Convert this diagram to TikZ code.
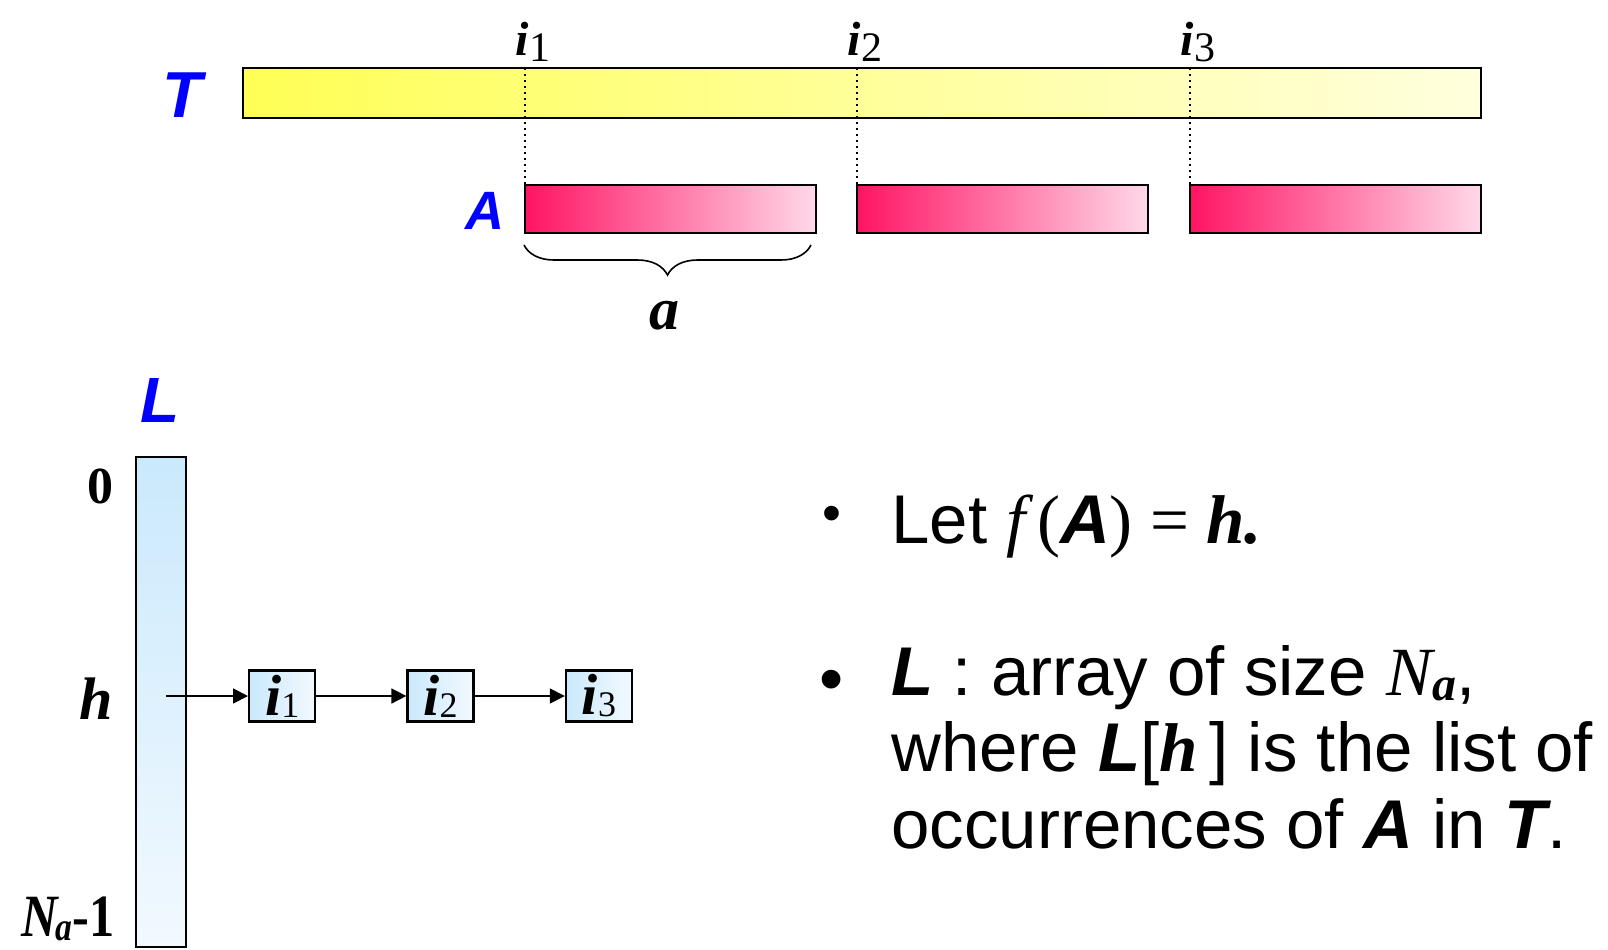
\documentclass[tikz,border=0pt]{standalone}
\usepackage{fontspec}
\setmainfont{Liberation Serif}
\setsansfont{Liberation Sans}
\usepackage{xcolor}
\usepackage{graphicx}
\usepackage{tikz}
\usetikzlibrary{arrows.meta,positioning,calc,decorations.pathreplacing}
\definecolor{tagblue}{RGB}{0,0,255}
\definecolor{textyel}{RGB}{255,255,85}
\definecolor{textpale}{RGB}{255,255,222}
\definecolor{patpink}{RGB}{255,20,100}
\definecolor{patpale}{RGB}{255,216,232}
\definecolor{listblue}{RGB}{202,233,252}
\definecolor{listpale}{RGB}{242,249,255}
\newcommand{\fs}[1]{\fontsize{#1}{#1}\selectfont}
\newcommand{\sbi}[1]{{\sffamily\bfseries\itshape #1}}
\newcommand{\rbi}[1]{{\rmfamily\bfseries\itshape #1}}
\newcommand{\rit}[1]{{\rmfamily\itshape #1}}
\newcommand{\topidx}[1]{\rbi{\fs{24}i}\raisebox{-2.8pt}{\fs{21}#1}}
\newcommand{\cellidx}[1]{\rbi{\fs{29}i}\raisebox{-1pt}{\fs{18}#1}}

\begin{document}
\begin{tikzpicture}[x=0.5pt,y=-0.5pt,>=Stealth,
    frame/.style={draw,line width=1.4pt},
    tag/.style={text=tagblue,inner sep=0pt},
    cell/.style={frame,line width=1.2pt,left color=listblue,right color=listpale,
      minimum width=33pt,minimum height=25.5pt,inner sep=0pt},
    link/.style={-{Triangle[length=7.5pt,width=7.5pt]},line width=0.8pt},
    txt/.style={anchor=base west,inner sep=0pt,font={\sffamily\fs{34.5}}}]
  \useasboundingbox (0,0) rectangle (1608,949);

  % text T
  \path[frame,left color=textyel,right color=textpale] (243,68) rectangle (1481,118);
  \node[tag,font={\sffamily\bfseries\itshape\fs{32.5}}] (Tname) at (182,95) {T};

  % occurrences i_k
  \foreach \x/\k in {525/1,857/2,1190/3}{
    \draw[dotted,line width=1pt] (\x,68) -- (\x,184);
    \node[inner sep=0pt] (top\k) at (\x+8,42) {\topidx{\k}};
  }

  % pattern A
  \foreach \x in {525,857,1190}
    \path[frame,left color=patpink,right color=patpale] (\x,185) rectangle ++(291,48);
  \node[tag,font={\sffamily\bfseries\itshape\fs{27}}] (Aname) at (485,211) {A};
  \draw[decorate,decoration={brace,mirror,amplitude=15pt},line width=0.8pt] (524,245) -- (811,245);
  \node[inner sep=0pt] (alen) at (664,316) {\rbi{\fs{30}a}};

  % --- array L ---
  \path[frame,top color=listblue,bottom color=listpale] (136,457) rectangle (186,947);
  \node[tag,font={\sffamily\bfseries\itshape\fs{32}}] (Lname) at (160,400) {L};
  \node[anchor=east,inner sep=0pt] (row0) at (114,486) {\textbf{\fs{26}0}};
  \node[anchor=east,inner sep=0pt] (rowh) at (113,699) {\rbi{\fs{30}h}};
  \node[anchor=base east,inner sep=0pt] (rowN) at (115,936)
    {\scalebox{0.84}[1]{\rbi{\fs{30}N}\kern-1pt\raisebox{-2pt}{\rbi{\fs{20}a}}\textbf{\fs{30}-1}}};

  % --- list L[h] ---
  \coordinate (hslot) at (166,696);
  \node[cell,right=41pt of hslot] (c1) {\cellidx{1}};
  \node[cell,right=45pt of c1] (c2) {\cellidx{2}};
  \node[cell,right=45pt of c2] (c3) {\cellidx{3}};
  \draw[link] (hslot) -- (c1);
  \draw[link] (c1) -- (c2);
  \draw[link] (c2) -- (c3);

  % bullets
  \node[txt,anchor=base] (dot1) at (832,531) {\fs{27}•};
  \node[txt,anchor=base] (dot2) at (832,702) {•};
  \node[txt] (line1) at (891,543) {Let \rit{f}\,\rmfamily(\sbi{A}) = \rbi{h.}};
  \node[txt] (line2) at (891,695) {\sbi{L} : array of size \rit{N}\raisebox{-2.5pt}{\rbi{\fs{24}a}},};
  \node[txt] (line3) at (891,771) {where \sbi{L}[\rbi{h}\,] is the list of};
  \node[txt] (line4) at (891,848) {occurrences of \sbi{A} in \sbi{T}.};
\end{tikzpicture}
\end{document}
